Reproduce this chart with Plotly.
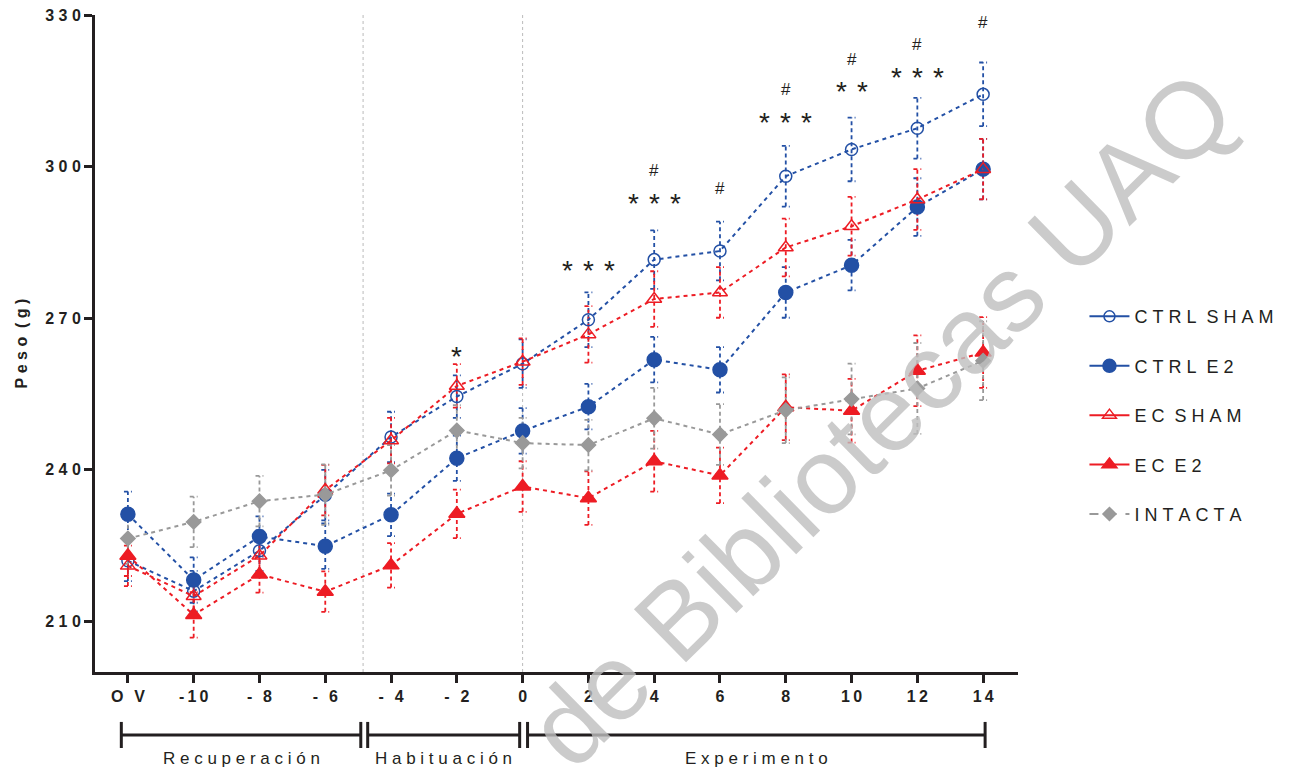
import plotly.graph_objects as go

# ---------------- data ----------------
x_pos = [-12, -10, -8, -6, -4, -2, 0, 2, 4, 6, 8, 10, 12, 14]
x_labels = ["O V", "-10", "- 8", "- 6", "- 4", "- 2", "0", "2", "4", "6", "8", "10", "12", "14"]

ctrl_sham = [222, 216, 224, 235, 246.5, 254.5, 261, 269.7, 281.6, 283.3, 298.1, 303.4, 307.6, 314.3]
ctrl_sham_err = [4, 4, 4, 5, 5, 4.2, 4.8, 5.4, 5.8, 5.8, 6, 6.3, 6, 6.3]

ctrl_e2 = [231.2, 218.2, 226.8, 224.9, 231.1, 242.3, 247.7, 252.5, 261.8, 259.8, 275.1, 280.5, 292, 299.5]
ctrl_e2_err = [4.5, 4.5, 4, 4.5, 4.2, 4.5, 4.5, 4.5, 4.5, 4.5, 5, 5, 5.7, 6]

ec_sham = [221, 215, 223, 236, 245.8, 256.6, 261.4, 266.8, 273.8, 275.1, 284, 288.2, 293.5, 299.5]
ec_sham_err = [4, 4, 4, 5, 4.5, 4.3, 4.6, 5.6, 5.5, 5, 5.7, 5.8, 6, 6]

ec_e2 = [223, 211.3, 219.3, 215.9, 221.1, 231.3, 236.7, 234.4, 241.7, 238.9, 252.4, 251.7, 259.6, 263.2]
ec_e2_err = [4, 4.5, 3.6, 4, 4.4, 4.8, 5, 5.3, 6, 5.5, 6.5, 6.3, 7, 7]

intacta = [226.4, 229.7, 233.8, 235.1, 239.9, 247.8, 245.3, 244.9, 250.2, 247, 251.8, 254, 256.1, 261.6]
intacta_err = [5, 5, 5, 6, 5, 5, 5, 5, 6, 6, 6.5, 7, 9, 7.8]

y_ticks = [210, 240, 270, 300, 330]

# significance marks: (x, y, text)
sig_x = [-2, 2, 4, 4, 6, 8, 8, 10, 10, 12, 12, 14]
sig_y = [262.4, 279.5, 292.8, 299.3, 295.6, 308.8, 315.3, 314.9, 321.2, 317.7, 324.2, 328.5]
sig_text = ["*", "***", "***", "#", "#", "***", "#", "**", "#", "***", "#", "#"]

phase_names = ["Recuperación", "Habituación", "Experimento"]
phase_start = [-12.2, -4.71, 0.15]
phase_end = [-4.92, -0.09, 14.06]
divider_x = [-4.85, 0]

BLUE = "#2350A5"
RED = "#ED1C24"
GRAY = "#999999"
INK = "#231F20"
NB = "\u00a0"
TH = "\u2009"
HS = "\u200a"
FONT = "Liberation Sans, Arial"


def spaced(s, sep):
    return sep.join(list(s))


def spaced_words(s, sep, wordsep):
    return wordsep.join(spaced(w, sep) for w in s.split(" "))


series = [
    ("CTRL SHAM", ctrl_sham, ctrl_sham_err, BLUE, "circle-open", 12, "1"),
    ("CTRL E2", ctrl_e2, ctrl_e2_err, BLUE, "circle", 14, "2"),
    ("EC SHAM", ec_sham, ec_sham_err, RED, "triangle-up-open", 13, "3"),
    ("EC E2", ec_e2, ec_e2_err, RED, "triangle-up", 14, "4"),
    ("INTACTA", intacta, intacta_err, GRAY, "diamond", 11, "5"),
]

fig = go.Figure()

# dashed error bars (drawn behind everything)
cap = 0.12
for name, ys, es, col, sym, size, grp in series:
    ex, ey = [], []
    for xv, yv, ev in zip(x_pos, ys, es):
        ex += [xv, xv, None, xv - cap, xv + cap, None, xv - cap, xv + cap, None]
        ey += [yv - ev, yv + ev, None, yv + ev, yv + ev, None, yv - ev, yv - ev, None]
    fig.add_trace(go.Scatter(x=ex, y=ey, mode="lines", showlegend=False, hoverinfo="skip",
                             line=dict(color=col, width=1.8, dash="4px,3px")))

# series lines & markers
for name, ys, es, col, sym, size, grp in series:
    fig.add_trace(go.Scatter(
        x=x_pos, y=ys, mode="lines+markers", name=name, showlegend=False,
        line=dict(color=col, width=2, dash="4px,4px"),
        marker=dict(symbol=sym, size=size, color=col, line=dict(color=col, width=1.5)),
    ))

# legend entries
for name, ys, es, col, sym, size, grp in series:
    fig.add_trace(go.Scatter(
        x=[None], y=[None], mode="lines+markers",
        name=spaced_words(name, NB, NB + NB),
        legendgroup=grp,
        line=dict(color=col, width=2, dash="dash" if name == "INTACTA" else "solid"),
        marker=dict(symbol=sym, size=size - 1, color=col, line=dict(color=col, width=1.5)),
    ))

shapes = []
for dx in divider_x:
    shapes.append(dict(type="line", xref="x", yref="y", x0=dx, x1=dx, y0=200, y1=330,
                       line=dict(color="#BBBBBB", width=1, dash="dot"), layer="below"))

# phase brackets below the axis
yb, yt0, yt1 = -0.0959, -0.076, -0.1157
for s, e in zip(phase_start, phase_end):
    shapes.append(dict(type="line", xref="x", yref="paper", x0=s, x1=e, y0=yb, y1=yb,
                       line=dict(color=INK, width=3)))
    for xx in (s, e):
        shapes.append(dict(type="line", xref="x", yref="paper", x0=xx, x1=xx, y0=yt0, y1=yt1,
                           line=dict(color=INK, width=3)))

annotations = []
for n, s, e in zip(phase_names, phase_start, phase_end):
    annotations.append(dict(x=(s + e) / 2, y=-0.131, xref="x", yref="paper", text=spaced(n, NB),
                            showarrow=False, xanchor="center", yanchor="middle",
                            font=dict(family=FONT, size=17, color=INK)))

for sx, sy, st in zip(sig_x, sig_y, sig_text):
    is_star = st.startswith("*")
    annotations.append(dict(x=sx, y=sy, xref="x", yref="y",
                            text=spaced(st, NB + HS) if is_star else st,
                            showarrow=False, xanchor="center", yanchor="middle",
                            font=dict(family=FONT, size=28 if is_star else 17, color=INK)))

# watermark
annotations.append(dict(x=0.85, y=0.385, xref="paper", yref="paper", text="de Bibliotecas UAQ",
                        showarrow=False, textangle=-44.5, xanchor="center", yanchor="middle",
                        font=dict(family=FONT, size=108, color="rgba(190,190,190,0.8)")))

fig.update_layout(
    width=1291, height=764,
    margin=dict(l=87, r=281, t=7, b=100),
    paper_bgcolor="white", plot_bgcolor="white",
    shapes=shapes, annotations=annotations,
    legend=dict(x=1.072, y=0.569, xanchor="left", yanchor="top",
                font=dict(family=FONT, size=18, color=INK),
                tracegroupgap=23, traceorder="grouped", itemwidth=40,
                bgcolor="rgba(0,0,0,0)"),
)

fig.update_xaxes(
    range=[-13, 15.06], tickmode="array", tickvals=x_pos,
    ticktext=["<b>" + (l.replace(" ", TH + NB + TH) if " " in l else spaced(l, TH)) + "</b>" for l in x_labels],
    ticks="outside", ticklen=8, tickwidth=3, tickcolor=INK, automargin=False,
    showline=True, linewidth=3, linecolor=INK, showgrid=False, zeroline=False,
    tickfont=dict(family=FONT, size=16, color=INK), ticklabeloverflow="allow",
)
fig.update_yaxes(
    range=[200, 330], tickmode="array", tickvals=y_ticks,
    ticktext=["<b>" + spaced(str(v), NB) + "</b>" for v in y_ticks],
    ticks="outside", ticklen=8, tickwidth=3, tickcolor=INK, automargin=False,
    showline=True, linewidth=3, linecolor=INK, showgrid=False, zeroline=False,
    tickfont=dict(family=FONT, size=16, color=INK), ticklabeloverflow="allow",
    title=dict(text="<b>" + spaced_words("Peso (g)", NB, NB + NB) + "</b>", standoff=14,
               font=dict(family=FONT, size=16, color=INK)),
)

fig.write_html("out.html")
